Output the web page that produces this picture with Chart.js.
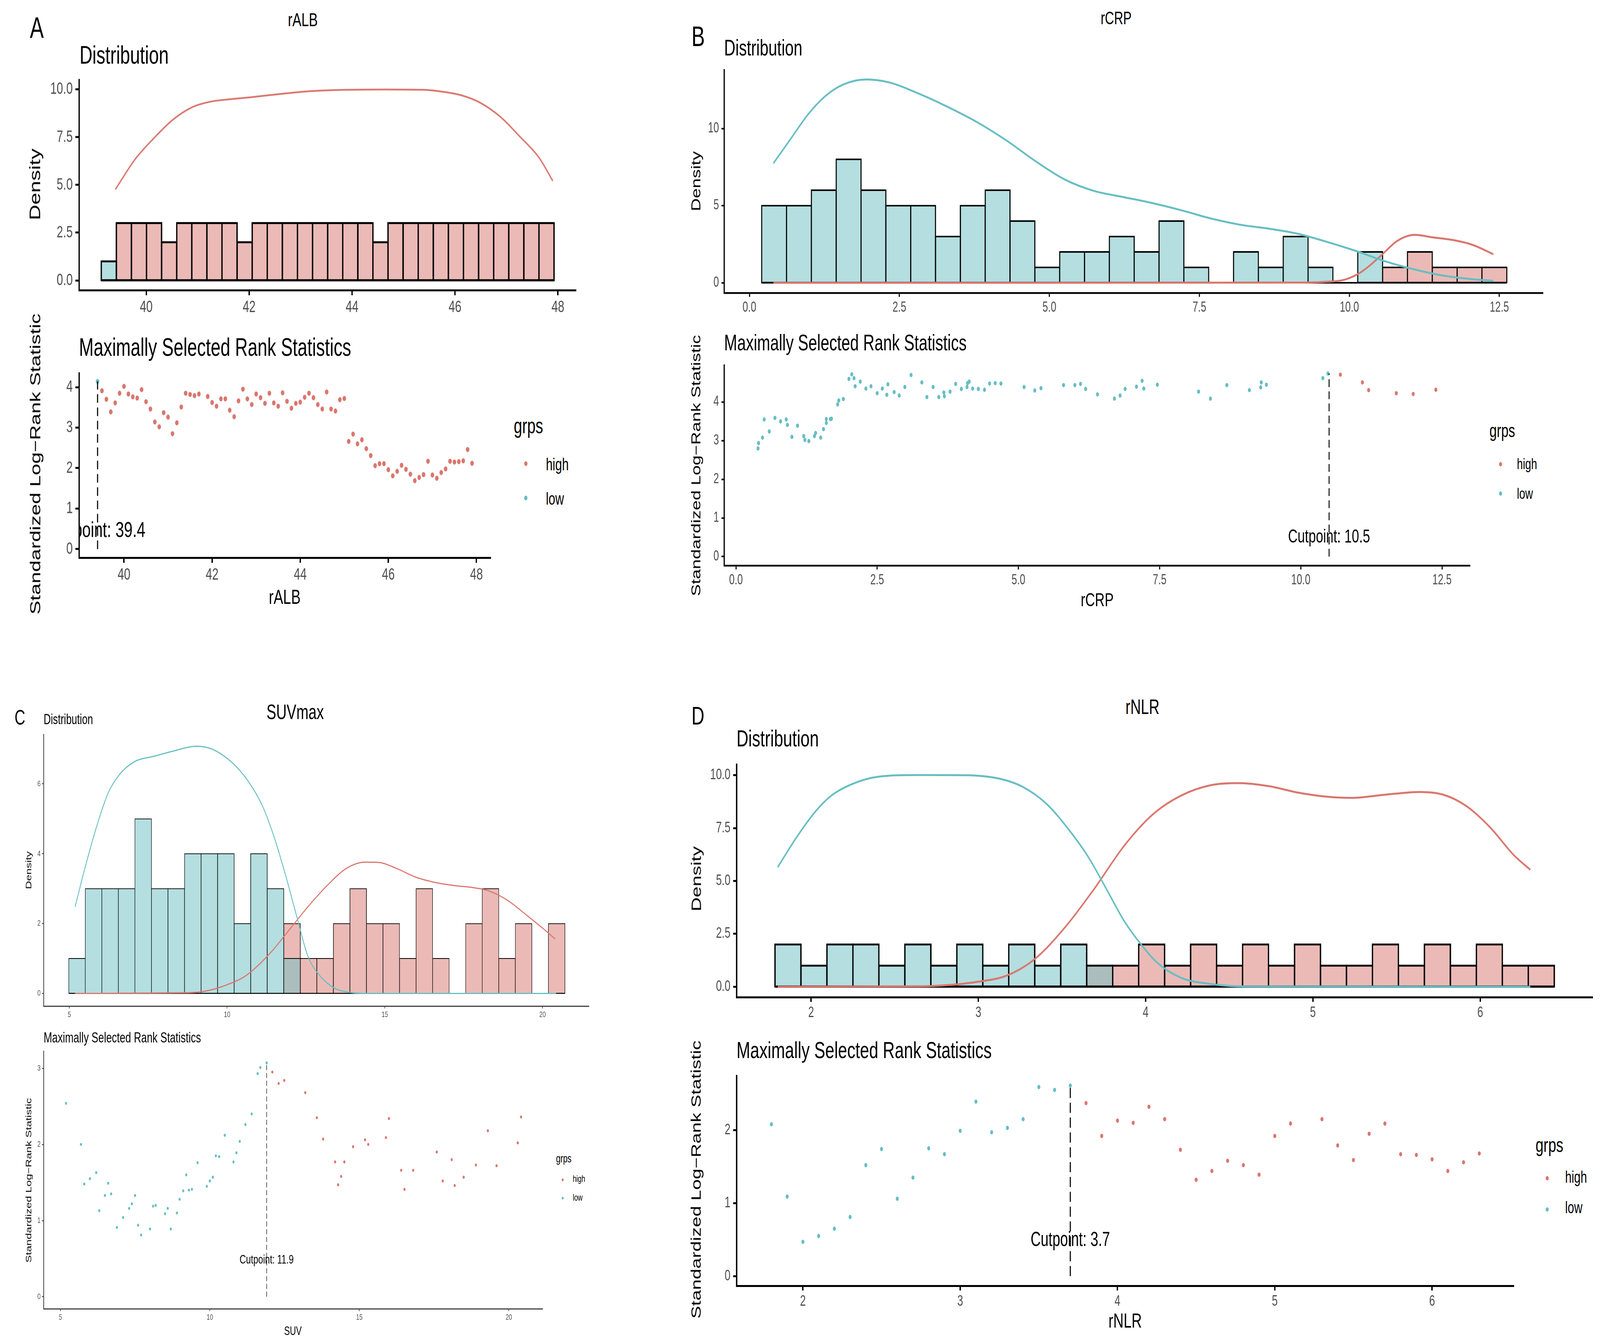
<!DOCTYPE html>
<html lang="en">
  <head>
    <meta charset="UTF-8" />
    <title>Maximally selected rank statistics</title>
    <style>
      html, body { margin: 0; padding: 0; width: 100%; height: 100%; overflow: hidden; background: #fff; }
      #page {
        position: absolute;
        left: 0;
        top: 0;
        width: 5833px;
        height: 3441px;
        transform-origin: 0 0;
        background: #fff;
        font-family: "Liberation Sans", Arial, sans-serif;
      }
      .t { position: absolute; white-space: nowrap; line-height: 1; color: #000; }
      .box { position: absolute; }
      .dot { position: absolute; border-radius: 50%; }
    </style>
  </head>
  <body>
    <div id="page"></div>
    <script src="https://cdn.jsdelivr.net/npm/chart.js"></script>
    <script>
      // ---------- A: rALB ----------
      const albBinStart = 39.126;
      const albBinWidth = 0.2933;
      const albLowCounts = [1, 0,0,0,0,0,0,0,0,0,0,0,0,0,0,0,0,0,0,0,0,0,0,0,0,0,0,0,0,0];
      const albHighCounts = [0, 3,3,3, 2, 3,3,3,3, 2, 3,3,3,3,3,3,3,3, 2, 3,3,3,3,3,3,3,3,3,3,3];
      const albDensHighX = [39.40, 39.78, 40.15, 40.52, 40.90, 41.27, 41.64, 42.02, 42.60, 43.14, 43.89, 44.64, 45.38, 45.76, 46.13, 46.50, 46.88, 47.25, 47.63, 47.90];
      const albDensHighY = [4.76, 6.33, 7.45, 8.42, 9.08, 9.37, 9.49, 9.59, 9.76, 9.90, 9.98, 10.0, 9.98, 9.88, 9.69, 9.29, 8.57, 7.56, 6.44, 5.21];
      const albStatLowX = [39.4];
      const albStatLowY = [4.14];
      const albStatHighX = [39.5, 39.6, 39.7, 39.8, 39.9, 40.0, 40.1, 40.2, 40.3, 40.4, 40.5, 40.6, 40.7, 40.8, 40.9, 41.0, 41.1, 41.2, 41.3, 41.4, 41.5, 41.6, 41.7,
        41.9, 42.0, 42.1, 42.2, 42.3, 42.4, 42.5, 42.6, 42.7, 42.8, 42.9, 43.0, 43.1, 43.2, 43.3, 43.4, 43.5, 43.6, 43.7, 43.8, 43.9, 44.0, 44.1, 44.2, 44.3, 44.4,
        44.5, 44.6, 44.7, 44.8, 44.9, 45.0, 45.1, 45.2, 45.3, 45.4, 45.5, 45.6, 45.7, 45.8, 45.9, 46.0, 46.1, 46.2, 46.3, 46.4, 46.5, 46.6, 46.7, 46.8, 46.9, 47.0,
        47.1, 47.2, 47.3, 47.4, 47.5, 47.6, 47.7, 47.8, 47.9];
      const albStatHighY = [3.91, 3.70, 3.39, 3.61, 3.85, 4.02, 3.83, 3.76, 3.73, 3.94, 3.64, 3.46, 3.14, 3.02, 3.37, 3.26, 2.85, 3.12, 3.51, 3.85, 3.82, 3.79, 3.83,
        3.77, 3.62, 3.53, 3.71, 3.71, 3.43, 3.27, 3.66, 3.95, 3.71, 3.57, 3.83, 3.74, 3.60, 3.85, 3.61, 3.53, 3.86, 3.65, 3.48, 3.60, 3.63, 3.75, 3.85, 3.74, 3.57,
        3.46, 3.88, 3.46, 3.41, 3.69, 3.72, 2.66, 2.84, 2.60, 2.70, 2.48, 2.31, 2.06, 2.11, 2.11, 1.96, 1.81, 1.92, 2.07, 1.97, 1.85, 1.69, 1.77, 1.84, 2.17, 1.83,
        1.75, 1.89, 1.98, 2.17, 2.15, 2.16, 2.18, 2.46, 2.12];
      const albCut = 39.4;
      const albXTicks = [40, 42, 44, 46, 48];
      const albXLabels = ["40", "42", "44", "46", "48"];
      const albHistYTicks = [0, 2.5, 5, 7.5, 10];
      const albHistYLabels = ["0.0", "2.5", "5.0", "7.5", "10.0"];
      const albStatYTicks = [0, 1, 2, 3, 4];
      const albStatYLabels = ["0", "1", "2", "3", "4"];

      // ---------- B: rCRP ----------
      const crpBinStart = 0.204;
      const crpBinWidth = 0.414;
      const crpLowCounts = [5,5,6,8,6,5,5,3,5,6, 4,1,2,2,3,2,4,1,0,2, 1,3,1,0,2,0,0,0,0,0];
      const crpHighCounts = [0,0,0,0,0,0,0,0,0,0, 0,0,0,0,0,0,0,0,0,0, 0,0,0,0,0,1,2,1,1,1];
      const crpDensLowX = [0.40, 0.69, 0.98, 1.27, 1.56, 1.95, 2.34, 2.83, 3.31, 3.80, 4.29, 4.77, 5.26, 5.74, 6.23, 6.71, 7.20, 7.69, 8.17, 8.66, 9.14, 9.63, 10.12, 10.60, 11.09, 11.57, 12.06, 12.40];
      const crpDensLowY = [7.75, 9.34, 10.93, 12.12, 12.85, 13.18, 12.98, 12.25, 11.39, 10.40, 9.21, 7.88, 6.69, 5.96, 5.56, 5.17, 4.70, 4.17, 3.77, 3.51, 3.18, 2.65, 2.05, 1.39, 0.86, 0.46, 0.23, 0.13];
      const crpDensHighX = [0.40, 9.14, 9.63, 9.92, 10.21, 10.50, 10.80, 11.09, 11.38, 11.77, 12.06, 12.40];
      const crpDensHighY = [0, 0.01, 0.07, 0.20, 0.73, 1.66, 2.72, 3.11, 2.95, 2.74, 2.45, 1.85];
      const crpStatLowX = [0.39, 0.40, 0.47, 0.50, 0.59, 0.69, 0.79, 0.89, 0.91, 0.99, 1.09, 1.20, 1.22, 1.29, 1.39, 1.41, 1.50, 1.55, 1.60, 1.60, 1.67, 1.69, 1.80, 1.82,
        1.90, 2.00, 2.05, 2.09, 2.11, 2.20, 2.30, 2.39, 2.50, 2.59, 2.67, 2.69, 2.80, 2.89, 2.99, 3.10, 3.29, 3.38, 3.49, 3.59, 3.68, 3.69, 3.79, 3.89, 3.99, 4.09,
        4.10, 4.13, 4.19, 4.29, 4.40, 4.49, 4.59, 4.69, 5.10, 5.29, 5.40, 5.80, 6.00, 6.10, 6.19, 6.40, 6.70, 6.80, 6.89, 7.09, 7.19, 7.22, 7.46, 8.19, 8.40, 8.69,
        9.09, 9.29, 9.30, 9.39, 10.39, 10.48];
      const crpStatLowY = [2.80, 2.94, 3.08, 3.55, 3.24, 3.59, 3.50, 3.55, 3.41, 3.10, 3.39, 3.12, 3.02, 2.99, 3.12, 3.20, 3.08, 3.30, 3.46, 3.56, 3.56, 3.57, 3.94, 4.04,
        4.08, 4.60, 4.72, 4.62, 4.41, 4.53, 4.35, 4.41, 4.23, 4.35, 4.19, 4.46, 4.26, 4.17, 4.39, 4.70, 4.51, 4.13, 4.39, 4.13, 4.25, 4.15, 4.27, 4.47, 4.34, 4.39,
        4.49, 4.53, 4.35, 4.34, 4.32, 4.48, 4.49, 4.48, 4.39, 4.30, 4.36, 4.44, 4.44, 4.47, 4.34, 4.20, 4.09, 4.17, 4.34, 4.40, 4.55, 4.35, 4.45, 4.27, 4.09, 4.44,
        4.31, 4.38, 4.51, 4.45, 4.62, 4.74];
      const crpStatHighX = [10.70, 11.09, 11.20, 11.69, 11.99, 12.39];
      const crpStatHighY = [4.71, 4.51, 4.31, 4.23, 4.21, 4.32];
      const crpCut = 10.5;
      const crpXTicks = [0, 2.5, 5, 7.5, 10, 12.5];
      const crpXLabels = ["0.0", "2.5", "5.0", "7.5", "10.0", "12.5"];
      const crpHistYTicks = [0, 5, 10];
      const crpHistYLabels = ["0", "5", "10"];
      const crpStatYTicks = [0, 1, 2, 3, 4];
      const crpStatYLabels = ["0", "1", "2", "3", "4"];

      // ---------- C: SUVmax ----------
      const suvBinStart = 4.98;
      const suvBinWidth = 0.5243;
      const suvLowCounts = [1,3,3,3,5,3,3,4,4,4, 2,4,3,1,0,0,0,0,0,0, 0,0,0,0,0,0,0,0,0,0];
      const suvHighCounts = [0,0,0,0,0,0,0,0,0,0, 0,0,0,2,1,1,2,3,2,2, 1,3,1,0,2,3,1,2,0,2];
      const suvDensLowX = [5.18, 5.49, 5.85, 6.22, 6.59, 7.07, 7.68, 8.29, 9.02, 9.51, 10.12, 10.61, 11.10, 11.46, 11.83, 12.20, 12.56, 12.93, 13.41, 13.90, 14.39, 20.43];
      const suvDensLowY = [2.48, 3.58, 4.74, 5.72, 6.27, 6.64, 6.79, 6.94, 7.08, 7.00, 6.64, 6.15, 5.41, 4.56, 3.46, 2.23, 1.07, 0.52, 0.15, 0.03, 0, 0];
      const suvDensHighX = [5.18, 8.66, 9.27, 9.88, 10.61, 11.34, 11.95, 12.56, 13.17, 13.78, 14.39, 14.82, 15.37, 15.98, 16.59, 17.20, 17.80, 18.29, 18.90, 19.51, 20.00, 20.40];
      const suvDensHighY = [0, 0.02, 0.06, 0.21, 0.52, 1.13, 1.80, 2.48, 3.09, 3.58, 3.76, 3.75, 3.58, 3.33, 3.18, 3.09, 3.03, 2.94, 2.66, 2.23, 1.87, 1.56];
      const suvStatLowX = [5.19, 5.69, 5.80, 5.99, 6.20, 6.30, 6.49, 6.60, 6.70, 6.89, 7.10, 7.30, 7.39, 7.50, 7.60, 7.70, 8.00, 8.10, 8.19, 8.50, 8.59, 8.69, 8.90,
        8.99, 9.11, 9.21, 9.30, 9.40, 9.59, 9.90, 10.00, 10.10, 10.20, 10.31, 10.50, 10.79, 10.89, 11.00, 11.19, 11.40, 11.60, 11.69, 11.90];
      const suvStatLowY = [2.54, 2.00, 1.48, 1.55, 1.63, 1.13, 1.33, 1.49, 1.35, 0.91, 1.04, 1.16, 1.22, 1.33, 0.94, 0.81, 0.89, 1.19, 1.20, 1.09, 1.16, 0.89, 1.10,
        1.28, 1.39, 1.60, 1.40, 1.41, 1.76, 1.45, 1.52, 1.57, 1.85, 1.84, 2.12, 1.77, 1.89, 2.04, 2.26, 2.40, 2.93, 3.01, 3.07];
      const suvStatHighX = [12.09, 12.30, 12.49, 13.19, 13.58, 13.79, 14.19, 14.29, 14.39, 14.50, 14.79, 15.19, 15.30, 15.89, 15.99, 16.40, 16.51, 16.80, 17.59, 17.79,
        18.09, 18.19, 18.49, 18.90, 19.30, 19.59, 20.30, 20.41];
      const suvStatHighY = [2.95, 2.80, 2.84, 2.68, 2.35, 2.07, 1.77, 1.47, 1.58, 1.77, 1.97, 2.06, 2.00, 2.09, 2.34, 1.66, 1.41, 1.66, 1.90, 1.52,
        1.80, 1.46, 1.57, 1.73, 2.18, 1.72, 2.02, 2.36];
      const suvCut = 11.9;
      const suvXTicks = [5, 10, 15, 20];
      const suvXLabels = ["5", "10", "15", "20"];
      const suvHistYTicks = [0, 2, 4, 6];
      const suvHistYLabels = ["0", "2", "4", "6"];
      const suvStatYTicks = [0, 1, 2, 3];
      const suvStatYLabels = ["0", "1", "2", "3"];

      // ---------- D: rNLR ----------
      const nlrBinStart = 1.784;
      const nlrBinWidth = 0.1553;
      const nlrLowCounts = [2,1,2,2,1,2,1,2,1,2, 1,2,1,0,0,0,0,0,0,0, 0,0,0,0,0,0,0,0,0,0];
      const nlrHighCounts = [0,0,0,0,0,0,0,0,0,0, 0,0,1,1,2,1,2,1,2,1, 2,1,1,2,1,2,1,2,1,1];
      const nlrDensLowX = [1.80, 1.91, 2.02, 2.12, 2.26, 2.40, 2.65, 2.92, 3.13, 3.27, 3.41, 3.55, 3.66, 3.76, 3.87, 3.97, 4.07, 4.21, 4.39, 4.60, 6.30];
      const nlrDensLowY = [5.65, 7.03, 8.23, 9.03, 9.63, 9.93, 10.01, 10.0, 9.83, 9.43, 8.63, 7.33, 6.10, 4.70, 3.13, 2.03, 1.13, 0.43, 0.13, 0.01, 0];
      const nlrDensHighX = [1.80, 2.65, 2.82, 2.99, 3.17, 3.34, 3.52, 3.69, 3.87, 4.04, 4.21, 4.39, 4.56, 4.74, 4.91, 5.09, 5.23, 5.43, 5.64, 5.78, 5.92, 6.06, 6.20, 6.30];
      const nlrDensHighY = [0, 0.02, 0.08, 0.23, 0.53, 1.33, 2.83, 4.60, 6.65, 8.13, 9.03, 9.53, 9.63, 9.48, 9.18, 8.98, 8.93, 9.08, 9.21, 9.08, 8.53, 7.53, 6.23, 5.53];
      const nlrStatLowX = [1.8, 1.9, 2.0, 2.1, 2.2, 2.3, 2.4, 2.5, 2.6, 2.7, 2.8, 2.9, 3.0, 3.1, 3.2, 3.3, 3.4, 3.5, 3.6, 3.7];
      const nlrStatLowY = [2.08, 1.09, 0.47, 0.55, 0.65, 0.81, 1.52, 1.74, 1.06, 1.35, 1.75, 1.67, 1.99, 2.39, 1.97, 2.03, 2.15, 2.59, 2.55, 2.61];
      const nlrStatHighX = [3.8, 3.9, 4.0, 4.1, 4.2, 4.3, 4.4, 4.5, 4.6, 4.7, 4.8, 4.9, 5.0, 5.1, 5.3, 5.4, 5.5, 5.6, 5.7, 5.8, 5.9, 6.0, 6.1, 6.2, 6.3];
      const nlrStatHighY = [2.37, 1.92, 2.13, 2.10, 2.32, 2.15, 1.73, 1.32, 1.44, 1.58, 1.52, 1.39, 1.92, 2.09, 2.15, 1.79, 1.59, 1.95, 2.09, 1.67, 1.66, 1.60, 1.44, 1.56, 1.68];
      const nlrCut = 3.7;
      const nlrXTicks = [2, 3, 4, 5, 6];
      const nlrXLabels = ["2", "3", "4", "5", "6"];
      const nlrHistYTicks = [0, 2.5, 5, 7.5, 10];
      const nlrHistYLabels = ["0.0", "2.5", "5.0", "7.5", "10.0"];
      const nlrStatYTicks = [0, 1, 2];
      const nlrStatYLabels = ["0", "1", "2"];

      const groups = ["high", "low"];

      // ---------- drawing ----------
      // the layout below is in 5833 x 3441 units; stretch it over the real window
      const page = document.getElementById("page");
      const vw = document.documentElement.clientWidth || window.innerWidth;
      const vh = document.documentElement.clientHeight || window.innerHeight;
      page.style.transform = "scale(" + vw / 5833 + "," + vh / 3441 + ")";

      Chart.defaults.font.family = '"Liberation Sans", Arial, sans-serif';
      const RED = "#DA766E";
      const BLUE = "#67BEC3";
      const PINK_FILL = "#EBBAB6";
      const BLUE_FILL = "#B4DEE0";
      const MIX_FILL = "#ACBDBD";

      const styleA = { tickSize: 42, tickLen: 13, tickW: 5, axis: "#000", axisW: 5, xPad: 6, yPad: 10, bar: 5, dens: 4.5, pt: 6.5, dash: [22, 12], dashW: 4, cutSize: 56, yw: 150, pad: 50 };
      const styleB = { tickSize: 36, tickLen: 10, tickW: 4, axis: "#000", axisW: 4.5, xPad: 6, yPad: 9, bar: 4, dens: 5, pt: 5.5, dash: [20, 11], dashW: 3.5, cutSize: 48, yw: 130, pad: 45 };
      const styleC = { tickSize: 21, tickLen: 6, tickW: 2, axis: "#222", axisW: 2.5, xPad: 4, yPad: 5, bar: 2, dens: 3, pt: 3.8, dash: [13, 7], dashW: 2, cutSize: 32, yw: 70, pad: 30 };
      const styleD = { tickSize: 38, tickLen: 12, tickW: 5, axis: "#000", axisW: 5, xPad: 6, yPad: 10, bar: 5, dens: 5, pt: 5.5, dash: [26, 12], dashW: 4, cutSize: 51, yw: 140, pad: 25 };

      function xAxisHeight(st) {
        return st.tickLen + st.xPad + st.tickSize * 1.4 + 10;
      }

      // box = plot panel [left, top, right, bottom] in page units
      function frame(box, st) {
        const div = document.createElement("div");
        div.className = "box";
        div.style.left = box[0] - st.yw + "px";
        div.style.top = box[1] - st.pad + "px";
        div.style.width = box[2] - box[0] + st.yw + st.pad + "px";
        div.style.height = box[3] - box[1] + st.pad + xAxisHeight(st) + "px";
        const cv = document.createElement("canvas");
        div.appendChild(cv);
        page.appendChild(div);
        return cv;
      }

      function axis(range, ticks, labels, st, isX) {
        const size = isX ? xAxisHeight(st) : st.yw;
        return {
          type: "linear",
          min: range[0],
          max: range[1],
          offset: false,
          afterBuildTicks: (s) => { s.ticks = ticks.map((v) => ({ value: v })); },
          afterFit: (s) => { if (isX) s.height = size; else s.width = size; },
          ticks: {
            autoSkip: false, maxRotation: 0, minRotation: 0,
            padding: isX ? st.xPad : st.yPad,
            color: "#4D4D4D",
            font: { size: st.tickSize },
            callback: (v, i) => labels[i],
          },
          grid: { display: true, drawOnChartArea: false, drawTicks: true, tickLength: st.tickLen, tickWidth: st.tickW, tickColor: st.axis, offset: false },
          border: { display: true, color: st.axis, width: st.axisW },
        };
      }

      function baseOptions(p, st, extra) {
        return {
          responsive: true,
          maintainAspectRatio: false,
          animation: false,
          events: [],
          layout: { padding: { top: st.pad, right: st.pad, left: 0, bottom: 0 } },
          plugins: Object.assign({ legend: { display: false }, tooltip: { enabled: false } }, extra),
          scales: {
            x: axis(p.xRange, p.xTicks, p.xLabels, st, true),
            y: axis(p.yRange, p.yTicks, p.yLabels, st, false),
          },
        };
      }

      const pairs = (xs, ys) => xs.map((x, i) => ({ x: x, y: ys[i] }));

      function histChart(p) {
        const st = p.style;
        const cv = frame(p.box, st);
        const centers = p.low.map((v, i) => p.binStart + (i + 0.5) * p.binWidth);
        const bars = (counts) => counts.map((v, i) => ({ x: centers[i], y: v }));
        const both = p.low.map((v, i) => Math.min(v, p.high[i]));
        const barStyle = {
          type: "bar", borderColor: "#000", borderWidth: st.bar, borderSkipped: false,
          inflateAmount: st.bar / 2, grouped: false, barPercentage: 1, categoryPercentage: 1,
        };
        const lineStyle = { type: "line", pointRadius: 0, borderWidth: st.dens, cubicInterpolationMode: "monotone", fill: false };
        const datasets = [
          { ...lineStyle, data: pairs(p.densHighX, p.densHighY), borderColor: RED, order: 1 },
          {
            type: "line", pointRadius: 0, borderColor: "#000", borderWidth: st.bar, order: 3,
            data: [{ x: p.binStart, y: 0 }, { x: p.binStart + p.low.length * p.binWidth, y: 0 }],
          },
          { ...barStyle, data: bars(both), backgroundColor: MIX_FILL, order: 4 },
          { ...barStyle, data: bars(p.low), backgroundColor: BLUE_FILL, order: 5 },
          { ...barStyle, data: bars(p.high), backgroundColor: PINK_FILL, order: 6 },
        ];
        if (p.densLowX) {
          datasets.unshift({ ...lineStyle, data: pairs(p.densLowX, p.densLowY), borderColor: BLUE, order: 0 });
        }
        new Chart(cv, { type: "bar", data: { datasets: datasets }, options: baseOptions(p, st) });
      }

      // text at the cutpoint, clipped to the panel like ggplot does
      const cutLabel = {
        id: "cutLabel",
        afterDatasetsDraw(chart, args, o) {
          const { ctx, chartArea: a, scales } = chart;
          ctx.save();
          ctx.beginPath();
          ctx.rect(a.left, a.top, a.right - a.left, a.bottom - a.top);
          ctx.clip();
          ctx.font = o.size + 'px "Liberation Sans", Arial, sans-serif';
          ctx.fillStyle = "#000";
          ctx.textAlign = "center";
          ctx.textBaseline = "middle";
          ctx.fillText(o.text, scales.x.getPixelForValue(o.x), scales.y.getPixelForValue(o.y));
          ctx.restore();
        },
      };

      function statChart(p) {
        const st = p.style;
        const cv = frame(p.box, st);
        const top = Math.max(...p.lowY, ...p.highY);
        new Chart(cv, {
          type: "scatter",
          data: {
            datasets: [
              {
                type: "line", data: [{ x: p.cut, y: 0 }, { x: p.cut, y: top }], borderColor: "#000",
                borderWidth: st.dashW, borderDash: st.dash, pointRadius: 0, order: 0,
              },
              { data: pairs(p.lowX, p.lowY), backgroundColor: BLUE, pointRadius: st.pt, borderWidth: 0, order: 1 },
              { data: pairs(p.highX, p.highY), backgroundColor: RED, pointRadius: st.pt, borderWidth: 0, order: 2 },
            ],
          },
          options: baseOptions(p, st, { cutLabel: { text: "Cutpoint: " + p.cut, x: p.cut, y: p.labelY, size: st.cutSize } }),
          plugins: [cutLabel],
        });
      }

      function text(str, x, base, size, o) {
        o = o || {};
        const d = document.createElement("div");
        d.className = "t";
        d.textContent = str;
        d.style.fontSize = size + "px";
        d.style.left = x + "px";
        if (o.rot) {
          d.style.top = base + "px";
          d.style.transform = "translate(-50%,-50%) rotate(-90deg)";
        } else {
          d.style.top = base - 0.8465 * size + "px";
          if (o.center) d.style.transform = "translateX(-50%)";
        }
        page.appendChild(d);
      }

      function legend(x, titleBase, titleSize, labelX, bases, labelSize, dotX, dotYs, r) {
        text("grps", x, titleBase, titleSize);
        [RED, BLUE].forEach((c, i) => {
          const d = document.createElement("div");
          d.className = "dot";
          d.style.left = dotX - r + "px";
          d.style.top = dotYs[i] - r + "px";
          d.style.width = d.style.height = 2 * r + "px";
          d.style.background = c;
          page.appendChild(d);
          text(groups[i], labelX, bases[i], labelSize);
        });
      }

      // ---- panel A ----
      histChart({
        style: styleA, box: [288, 204, 2100, 742], xRange: [38.694, 48.352], yRange: [-0.512, 10.51],
        xTicks: albXTicks, xLabels: albXLabels, yTicks: albHistYTicks, yLabels: albHistYLabels,
        binStart: albBinStart, binWidth: albBinWidth, low: albLowCounts, high: albHighCounts,
        densHighX: albDensHighX, densHighY: albDensHighY,
      });
      statChart({
        style: styleA, box: [288, 955, 1789, 1427], xRange: [38.979, 48.324], yRange: [-0.213, 4.348],
        xTicks: albXTicks, xLabels: albXLabels, yTicks: albStatYTicks, yLabels: albStatYLabels,
        lowX: albStatLowX, lowY: albStatLowY, highX: albStatHighX, highY: albStatHighY, cut: albCut, labelY: 0.45,
      });

      // ---- panel B ----
      histChart({
        style: styleB, box: [2640, 179, 5625, 750], xRange: [-0.421, 13.227], yRange: [-0.658, 13.8],
        xTicks: crpXTicks, xLabels: crpXLabels, yTicks: crpHistYTicks, yLabels: crpHistYLabels,
        binStart: crpBinStart, binWidth: crpBinWidth, low: crpLowCounts, high: crpHighCounts,
        densLowX: crpDensLowX, densLowY: crpDensLowY, densHighX: crpDensHighX, densHighY: crpDensHighY,
      });
      statChart({
        style: styleB, box: [2640, 935, 5359, 1448], xRange: [-0.209, 12.995], yRange: [-0.233, 4.955],
        xTicks: crpXTicks, xLabels: crpXLabels, yTicks: crpStatYTicks, yLabels: crpStatYLabels,
        lowX: crpStatLowX, lowY: crpStatLowY, highX: crpStatHighX, highY: crpStatHighY, cut: crpCut, labelY: 0.5,
      });

      // ---- panel C ----
      histChart({
        style: styleC, box: [159, 1880, 2147, 2576], xRange: [4.183, 21.47], yRange: [-0.363, 7.42],
        xTicks: suvXTicks, xLabels: suvXLabels, yTicks: suvHistYTicks, yLabels: suvHistYLabels,
        binStart: suvBinStart, binWidth: suvBinWidth, low: suvLowCounts, high: suvHighCounts,
        densLowX: suvDensLowX, densLowY: suvDensLowY, densHighX: suvDensHighX, densHighY: suvDensHighY,
      });
      statChart({
        style: styleC, box: [159, 2691, 1978, 3351], xRange: [4.44, 21.13], yRange: [-0.159, 3.226],
        xTicks: suvXTicks, xLabels: suvXLabels, yTicks: suvStatYTicks, yLabels: suvStatYLabels,
        lowX: suvStatLowX, lowY: suvStatLowY, highX: suvStatHighX, highY: suvStatHighY, cut: suvCut, labelY: 0.48,
      });

      // ---- panel D ----
      histChart({
        style: styleD, box: [2685, 1950, 5806, 2553], xRange: [1.554, 6.672], yRange: [-0.492, 10.5],
        xTicks: nlrXTicks, xLabels: nlrXLabels, yTicks: nlrHistYTicks, yLabels: nlrHistYLabels,
        binStart: nlrBinStart, binWidth: nlrBinWidth, low: nlrLowCounts, high: nlrHighCounts,
        densLowX: nlrDensLowX, densLowY: nlrDensLowY, densHighX: nlrDensHighX, densHighY: nlrDensHighY,
      });
      statChart({
        style: styleD, box: [2685, 2747, 5519, 3292], xRange: [1.578, 6.52], yRange: [-0.132, 2.741],
        xTicks: nlrXTicks, xLabels: nlrXLabels, yTicks: nlrStatYTicks, yLabels: nlrStatYLabels,
        lowX: nlrStatLowX, lowY: nlrStatLowY, highX: nlrStatHighX, highY: nlrStatHighY, cut: nlrCut, labelY: 0.49,
      });

      // ---- titles and labels ----
      const YT = "Standardized Log\u2212Rank Statistic";

      text("A", 109, 97, 76);
      text("rALB", 1104, 67, 49, { center: true });
      text("Distribution", 290, 163, 65);
      text("Density", 128, 472, 55, { rot: true });
      text("Maximally Selected Rank Statistics", 288, 911, 64);
      text(YT, 128, 1188, 53, { rot: true });
      text("rALB", 1038, 1546, 52, { center: true });
      legend(1873, 1110, 55, 1990, [1204, 1292], 44, 1917, [1187, 1275], 6.3);

      text("B", 2521, 118, 73);
      text("rCRP", 4069, 62, 46, { center: true });
      text("Distribution", 2640, 142, 57);
      text("Density", 2538, 464, 46, { rot: true });
      text("Maximally Selected Rank Statistics", 2640, 897, 57);
      text(YT, 2538, 1192, 46, { rot: true });
      text("rCRP", 4000, 1552, 49, { center: true });
      legend(5430, 1120, 48, 5530, [1201, 1277], 39, 5470, [1188, 1263], 5.5);

      text("C", 53, 1855, 54);
      text("SUVmax", 1076, 1841, 53, { center: true });
      text("Distribution", 159, 1854, 36);
      text("Density", 105, 2228, 29, { rot: true });
      text("Maximally Selected Rank Statistics", 159, 2669, 37);
      text(YT, 105, 3022, 29, { rot: true });
      text("SUV", 1068, 3418, 31, { center: true });
      legend(2027, 2977, 29, 2088, [3026, 3074], 24, 2051, [3020, 3067], 3.5);

      text("D", 2521, 1855, 65);
      text("rNLR", 4165, 1828, 53, { center: true });
      text("Distribution", 2685, 1912, 60);
      text("Density", 2538, 2250, 50, { rot: true });
      text("Maximally Selected Rank Statistics", 2685, 2710, 60);
      text(YT, 2538, 3020, 49, { rot: true });
      text("rNLR", 4102, 3399, 52, { center: true });
      legend(5598, 2949, 52, 5706, [3029, 3107], 42, 5640, [3016, 3096], 5.5);
    </script>
  </body>
</html>
